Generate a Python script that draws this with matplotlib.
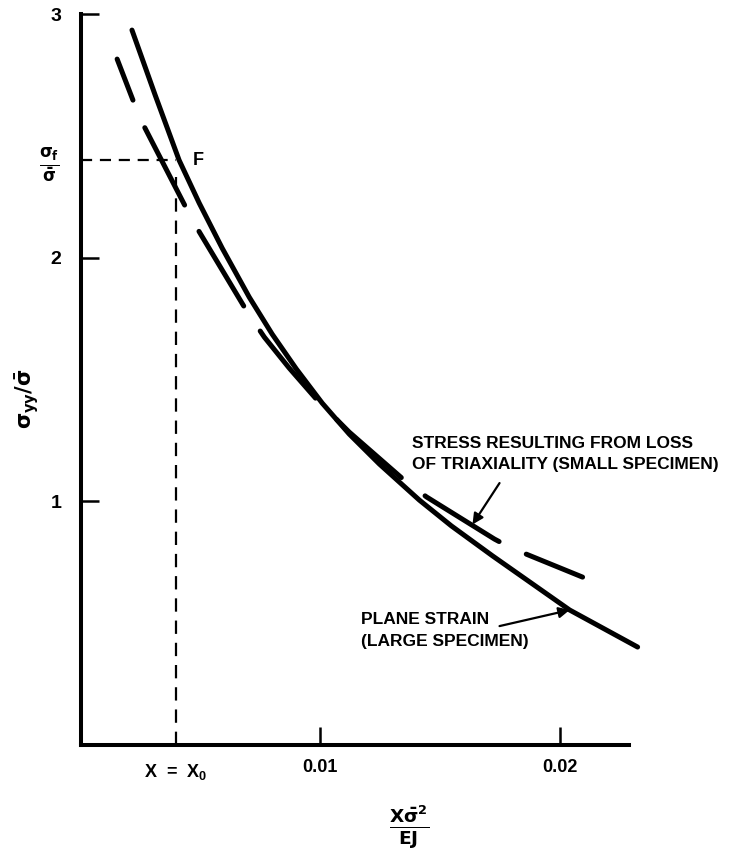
import matplotlib
matplotlib.use("Agg")
import matplotlib.pyplot as plt

# ---- data ----
plane_strain_x = [0.00213, 0.00310, 0.00410, 0.00494, 0.00590, 0.00703, 0.00799, 0.00900,
                  0.01008, 0.01121, 0.01247, 0.01414, 0.01548, 0.01720, 0.02042, 0.02326]
plane_strain_y = [2.934, 2.667, 2.400, 2.224, 2.039, 1.838, 1.686, 1.543,
                  1.403, 1.276, 1.153, 1.005, 0.899, 0.776, 0.554, 0.402]

small_spec_x = [0.00151, 0.00222, 0.00259, 0.00435, 0.00490, 0.00695, 0.00766, 0.00870,
                0.00983, 0.01121, 0.01360, 0.01444, 0.01728, 0.01799, 0.02096]
small_spec_y = [2.815, 2.634, 2.548, 2.212, 2.113, 1.777, 1.674, 1.547,
                1.420, 1.284, 1.079, 1.018, 0.845, 0.808, 0.689]

x0_value = 0.00397      # X = X0
f_level = 2.40          # sigma_f / sigma_bar
y_ticks = [1, 2, 3]
y_ticklabels = ["1", "2", "3"]
x_ticks = [0.01, 0.02]
x_ticklabels = ["0.01", "0.02"]

plt.rcParams["font.family"] = ["Liberation Sans", "DejaVu Sans"]
plt.rcParams["mathtext.fontset"] = "custom"
plt.rcParams["mathtext.rm"] = "DejaVu Sans:bold"
plt.rcParams["mathtext.it"] = "DejaVu Sans:bold"
plt.rcParams["mathtext.bf"] = "DejaVu Sans:bold"

W, H, DPI = 745, 856, 100
fig = plt.figure(figsize=(W / DPI, H / DPI), dpi=DPI)
left_px, right_px, top_px, bottom_px = 81, 629, 14, 745
ax = fig.add_axes([left_px / W, (H - bottom_px) / H,
                   (right_px - left_px) / W, (bottom_px - top_px) / H])
ax.set_xlim(0, 0.0229)
ax.set_ylim(0, 3)

for s in ["top", "right"]:
    ax.spines[s].set_visible(False)
for s in ["left", "bottom"]:
    ax.spines[s].set_linewidth(2.9)
    ax.spines[s].set_capstyle("projecting")

ax.set_yticks(y_ticks)
ax.set_yticklabels(y_ticklabels)
ax.set_xticks(x_ticks)
ax.set_xticklabels(x_ticklabels)
ax.set_xticks([x0_value], minor=True)
ax.set_xticklabels(["X  =  X$_\\mathregular{0}$"], minor=True)
ax.tick_params(axis="both", which="major", direction="in", length=13, width=1.8,
               labelsize=13)
ax.tick_params(axis="y", which="major", pad=14, labelsize=14)
ax.tick_params(axis="x", which="major", pad=10)
ax.tick_params(axis="x", which="minor", length=0, pad=12, labelsize=13)
for lab in ax.get_xticklabels() + ax.get_yticklabels() + ax.get_xticklabels(minor=True):
    lab.set_fontweight("bold")

# curves
ax.plot(plane_strain_x, plane_strain_y, color="black", lw=3.6,
        solid_capstyle="round", solid_joinstyle="round", clip_on=False)
ax.plot(small_spec_x, small_spec_y, color="black", lw=3.6,
        linestyle=(8.6, (17.4, 6.0)), dash_capstyle="round",
        dash_joinstyle="round", clip_on=False)

# reference dashed lines at F
ax.plot([0, x0_value], [f_level, f_level], color="black", lw=1.6,
        linestyle=(0, (5, 3.5)))
ax.plot([x0_value, x0_value], [0, f_level - 0.07], color="black", lw=1.6,
        linestyle=(0, (6, 4)))
ax.text(x0_value + 0.00068, f_level, "F", fontsize=13, fontweight="bold",
        ha="left", va="center")

# level label sigma_f / sigma_bar
ax.text(-0.00134, f_level - 0.02, r"$\frac{\sigma_f}{\bar{\sigma}}$", fontsize=17,
        ha="center", va="center")

# axis labels
ax.text(-0.00226, 1.42, r"$\sigma_{yy}/\bar{\sigma}$", fontsize=15,
        rotation=90, ha="center", va="center")
ax.text(0.01372, -0.34, r"$\frac{X\bar{\sigma}^2}{EJ}$", fontsize=19,
        ha="center", va="center")

# annotations
ax.text(0.01385, 1.27, "STRESS RESULTING FROM LOSS\nOF TRIAXIALITY (SMALL SPECIMEN)",
        fontsize=12.5, fontweight="bold", ha="left", va="top", linespacing=1.55)
ax.annotate("", xy=(0.01636, 0.905), xytext=(0.01749, 1.075),
            arrowprops=dict(arrowstyle="-|>", color="black", lw=1.6,
                            mutation_scale=16, shrinkA=0, shrinkB=0))
ax.text(0.01172, 0.545, "PLANE STRAIN\n(LARGE SPECIMEN)",
        fontsize=12.5, fontweight="bold", ha="left", va="top", linespacing=1.55)
ax.annotate("", xy=(0.02042, 0.554), xytext=(0.01749, 0.488),
            arrowprops=dict(arrowstyle="-|>", color="black", lw=1.6,
                            mutation_scale=16, shrinkA=0, shrinkB=0))

fig.savefig("out.png", dpi=DPI)
